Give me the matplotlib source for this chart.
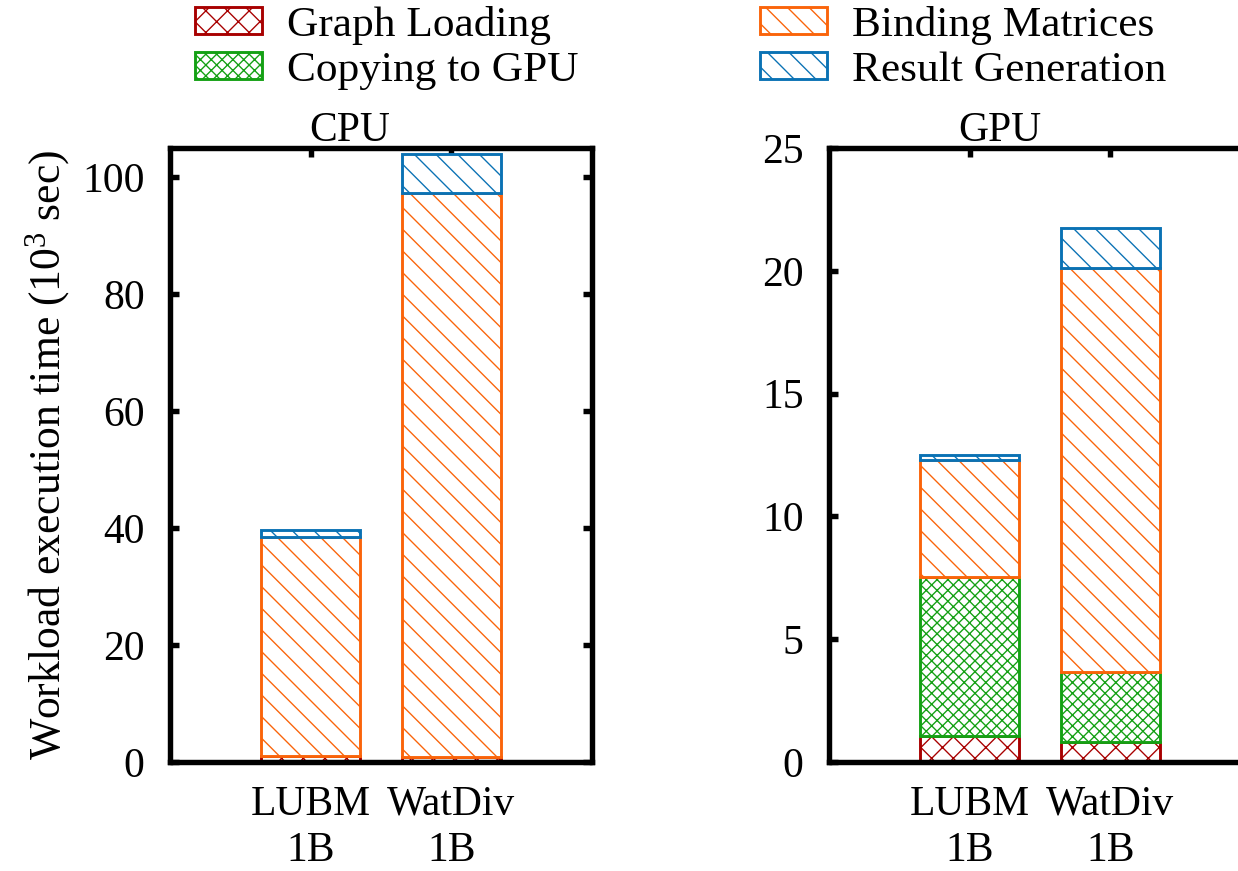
import matplotlib
matplotlib.use('Agg')
import matplotlib.pyplot as plt
import matplotlib.patches as mpatches
import numpy as np

DPI = 130
W, H = 1238, 871

plt.rcParams['font.family'] = ['Liberation Serif', 'DejaVu Serif']
plt.rcParams['mathtext.fontset'] = 'custom'
plt.rcParams['mathtext.rm'] = 'Liberation Serif'
plt.rcParams['mathtext.it'] = 'Liberation Serif:italic'
plt.rcParams['hatch.linewidth'] = 0.75

# Workload execution time, in thousands of seconds
datasets = ['LUBM\n1B', 'WatDiv\n1B']
phases = ['Graph Loading', 'Copying to GPU', 'Binding Matrices', 'Result Generation']

cpu_graph_loading = [1.05, 0.8]
cpu_copying = [0.0, 0.0]
cpu_binding = [37.45, 96.5]
cpu_result = [1.2, 6.6]

gpu_graph_loading = [1.05, 0.8]
gpu_copying = [6.5, 2.85]
gpu_binding = [4.75, 16.45]
gpu_result = [0.2, 1.65]

cpu_yticks = [0, 20, 40, 60, 80, 100]
gpu_yticks = [0, 5, 10, 15, 20, 25]

colors = ['#a80000', '#14a014', '#fa640a', '#0a72b4']
hatches = ['xx', 'xxxx', '\\\\', '\\\\']
EDGE_LW = 1.6
FS = 23

fig = plt.figure(figsize=(W / DPI, H / DPI), dpi=DPI)


def px_axes(left, top, right, bottom):
    return fig.add_axes([left / W, 1 - bottom / H, (right - left) / W, (bottom - top) / H])


def draw_panel(ax, segments, ylim, yticks):
    x = np.arange(1, len(datasets) + 1)
    base = np.zeros(len(x))
    for vals, c, h in zip(segments, colors, hatches):
        vals = np.asarray(vals, dtype=float)
        m = vals > 0
        if m.any():
            ax.bar(x[m], vals[m], 0.7, bottom=base[m], facecolor='white',
                   edgecolor=c, hatch=h, linewidth=EDGE_LW, zorder=2)
        base += vals
    ax.set_xlim(0, 3)
    ax.set_ylim(*ylim)
    ax.set_xticks(x)
    ax.set_xticklabels(datasets, linespacing=1.25)
    ax.set_yticks(yticks)
    ax.tick_params(direction='in', length=5, width=3, top=True, right=True,
                   labelsize=FS, pad=14)
    ax.tick_params(axis='x', pad=13)
    for sp in ax.spines.values():
        sp.set_linewidth(3)
        sp.set_zorder(5)


ax_cpu = px_axes(170, 148, 592, 762)
ax_gpu = px_axes(829, 148, 1251, 762)

draw_panel(ax_cpu, [cpu_graph_loading, cpu_copying, cpu_binding, cpu_result], (0, 105), cpu_yticks)
draw_panel(ax_gpu, [gpu_graph_loading, gpu_copying, gpu_binding, gpu_result], (0, 25), gpu_yticks)

fig.text(350 / W, 1 - 141 / H, 'CPU', ha='center', va='baseline', fontsize=FS)
fig.text(1000 / W, 1 - 141 / H, 'GPU', ha='center', va='baseline', fontsize=FS)
fig.text(48 / W, 1 - 455 / H, r'Workload execution time (10$^{3}$ sec)',
         rotation=90, ha='center', va='center', fontsize=24.2)

handles = [mpatches.Patch(facecolor='white', edgecolor=c, hatch=h, linewidth=EDGE_LW, label=p)
           for c, h, p in zip(colors, hatches, phases)]
LFS = 24
lfs_px = LFS * DPI / 72
common = dict(frameon=False, loc='upper left', fontsize=LFS, borderpad=0, borderaxespad=0,
              handlelength=67 / lfs_px, handleheight=25 / lfs_px, handletextpad=25 / lfs_px,
              labelspacing=0.14)
leg1 = fig.legend(handles=handles[:2], bbox_to_anchor=(195 / W, 1 - 6 / H), **common)
leg2 = fig.legend(handles=handles[2:], bbox_to_anchor=(760 / W, 1 - 6 / H), **common)

fig.savefig('out.png', dpi=DPI)
